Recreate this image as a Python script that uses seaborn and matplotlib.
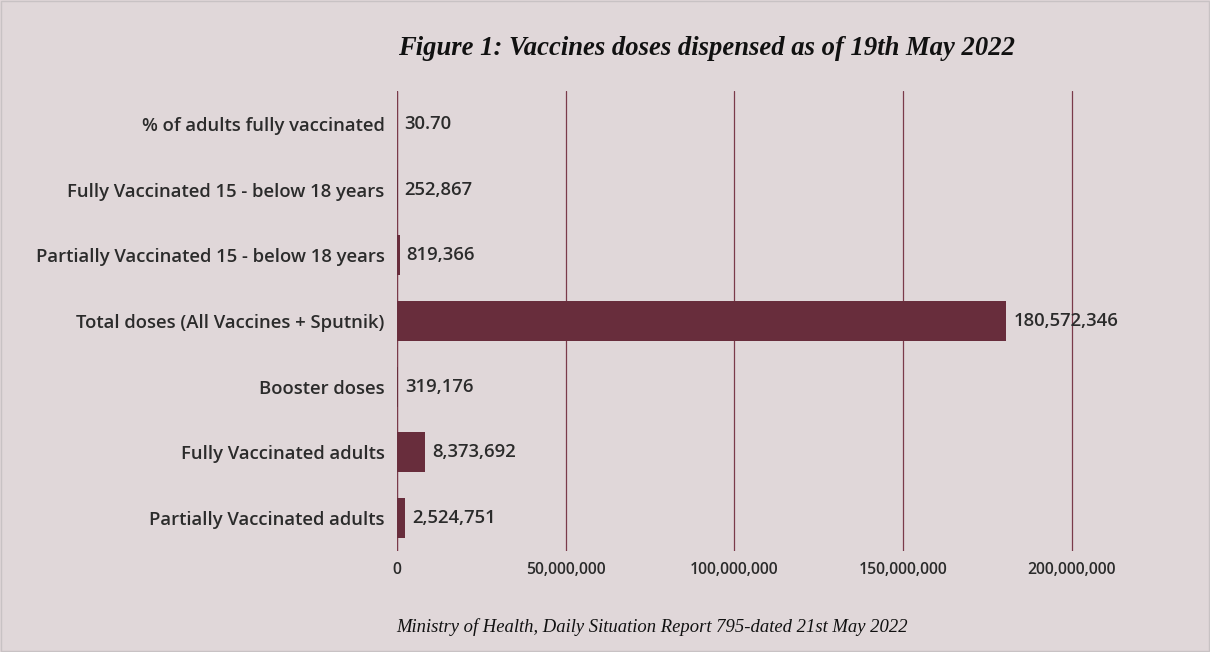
import matplotlib
matplotlib.use("Agg")
import matplotlib.pyplot as plt
import seaborn as sns
import pandas as pd
from matplotlib.ticker import FuncFormatter

categories = [
    "% of adults fully vaccinated",
    "Fully Vaccinated 15 - below 18 years",
    "Partially Vaccinated 15 - below 18 years",
    "Total doses (All Vaccines + Sputnik)",
    "Booster doses",
    "Fully Vaccinated adults",
    "Partially Vaccinated adults",
]
values = [30.70, 252867, 819366, 180572346, 319176, 8373692, 2524751]
value_labels = ["30.70", "252,867", "819,366", "180,572,346", "319,176", "8,373,692", "2,524,751"]
x_ticks = [0, 50000000, 100000000, 150000000, 200000000]

BG = "#e0d7d9"
BAR = "#682d3c"
TXT = "#2b2b2b"
GRID = "#7a3a4a"

sns.set_theme(style="white")
plt.rcParams["font.family"] = ["Open Sans", "DejaVu Sans"]

df = pd.DataFrame({"category": categories, "value": values})

fig = plt.figure(figsize=(12.1, 6.52), dpi=100, facecolor=BG)
ax = fig.add_axes([0.328, 0.155, 0.6136, 0.705])
ax.set_facecolor(BG)

sns.barplot(data=df, y="category", x="value", color=BAR, width=0.61,
            saturation=1, ax=ax, orient="h", linewidth=0, edgecolor=BAR)

ax.set_xlim(0, 220000000)
ax.set_xticks(x_ticks)
ax.xaxis.set_major_formatter(FuncFormatter(lambda v, p: f"{int(v):,}"))
ax.grid(axis="x", color=GRID, linewidth=0.9)
ax.set_axisbelow(True)
for s in ax.spines.values():
    s.set_visible(False)
ax.axvline(0, color=GRID, linewidth=0.9, zorder=0)
ax.tick_params(axis="x", length=0, pad=8, labelsize=11.3, labelcolor=TXT)
ax.tick_params(axis="y", length=0, pad=9, labelsize=13.3, labelcolor=TXT)
for lab in ax.get_xticklabels() + ax.get_yticklabels():
    lab.set_fontweight("semibold")
ax.set_xlabel("")
ax.set_ylabel("")

for i, (v, t) in enumerate(zip(values, value_labels)):
    ax.annotate(t, xy=(v, i), xytext=(5, 0), textcoords="offset points",
                va="center", ha="left", fontsize=13.3, fontweight="semibold", color=TXT)

fig.text(0.584, 0.926, "Figure 1: Vaccines doses dispensed as of 19th May 2022",
         ha="center", va="center", fontsize=19.2, fontweight="bold", style="italic",
         family=["Liberation Serif", "DejaVu Serif"], color="#111111")
fig.text(0.539, 0.038, "Ministry of Health, Daily Situation Report 795-dated 21st May 2022",
         ha="center", va="center", fontsize=13.4, style="italic",
         family=["Liberation Serif", "DejaVu Serif"], color="#111111")

border = plt.Rectangle((0.001, 0.001), 0.998, 0.998, transform=fig.transFigure,
                       fill=False, edgecolor="#c8c2c4", linewidth=1)
fig.patches.append(border)

fig.savefig("out.png", dpi=100, facecolor=BG)
